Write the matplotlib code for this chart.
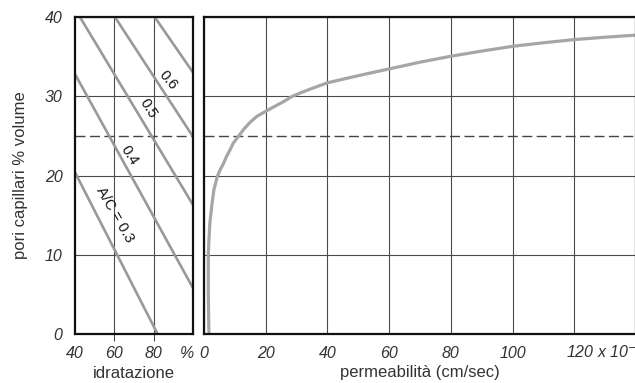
import matplotlib
matplotlib.use("Agg")
import matplotlib.pyplot as plt
import matplotlib.transforms as mtrans

plt.rcParams['font.family'] = ['Liberation Sans', 'DejaVu Sans']

# ---- data: left panel (idratazione vs pori capillari) ----
ac_labels = ["A/C = 0.3", "0.4", "0.5", "0.6", None]
line_x = [[40, 82.0], [40, 100], [42.5, 100], [60.3, 100], [80.5, 100]]
line_y = [[20.4, 0.0], [32.8, 5.8], [40, 16.3], [40, 24.9], [40, 33.0]]
label_pos = [(60.3, 15.0), (67.8, 22.6), (77.0, 28.5), (87.1, 32.0)]
label_rot = [-60, -57, -58, -50]

left_xticks = [40, 60, 80, 97]
left_xticklabels = ["40", "60", "80", "%"]
yticks = [0, 10, 20, 30, 40]
yticklabels = ["0", "10", "20", "30", "40"]

# ---- data: right panel (permeabilita vs pori capillari) ----
perm_x = [1.6, 1.4, 1.4, 1.6, 1.9, 2.5, 3.2, 4.3, 5.2, 6.3, 7.3, 8.4, 9.5, 11.1,
          12.8, 14.9, 17.1, 20.0, 22.8, 25.7, 28.4, 31.1, 34.4, 40.0, 50.0, 60.0,
          70.0, 80.0, 90.0, 100.0, 110.0, 120.0, 130.0, 139.5]
perm_y = [0.0, 5.0, 10.0, 11.9, 14.0, 16.1, 18.2, 19.85, 20.7, 21.5, 22.4, 23.2, 24.1, 24.9,
          25.8, 26.7, 27.45, 28.1, 28.7, 29.3, 29.95, 30.4, 30.9, 31.7, 32.6, 33.45,
          34.3, 35.05, 35.7, 36.3, 36.75, 37.15, 37.45, 37.7]
right_xticks = [0, 20, 40, 60, 80, 100, 120]
right_xticklabels = ["0", "20", "40", "60", "80", "100", "120 x 10$^{-12}$"]
threshold = 25

fig = plt.figure(figsize=(6.35, 3.83), dpi=100)
W, H = 635, 383
axL = fig.add_axes([75 / W, (H - 334) / H, 118 / W, 317 / H])
axR = fig.add_axes([204 / W, (H - 334) / H, 432 / W, 317 / H])

grid_c = "#4a4a4a"
tick_c = "#333333"
fs_tick = 11.5
fs_lab = 12
base_off = 17.0  # points below axis to baseline of tick labels

for ax in (axL, axR):
    ax.set_ylim(0, 40)
    ax.set_yticks(yticks)
    ax.grid(True, color=grid_c, lw=0.8)
    ax.set_axisbelow(True)
    for s in ax.spines.values():
        s.set_linewidth(1.6)
        s.set_color("#111111")
    ax.axhline(threshold, color="#444444", lw=1.0, dashes=(7.2, 3.2))


def xtick_text(ax, xv, lab, ha='center', dx=0):
    tr = mtrans.blended_transform_factory(ax.transData, ax.transAxes)
    ax.annotate(lab, xy=(xv, 0), xycoords=tr, xytext=(dx, -base_off),
                textcoords='offset points', ha=ha, va='baseline',
                fontsize=fs_tick, fontstyle='italic', color=tick_c,
                annotation_clip=False)


# Left panel
axL.set_xlim(40, 100)
axL.set_xticks([60, 80])
axL.tick_params(axis='x', length=5, width=0.8, color=grid_c, labelbottom=False)
axL.tick_params(axis='y', length=0, labelsize=fs_tick, labelcolor=tick_c, pad=9)
axL.set_yticklabels(yticklabels, fontstyle='italic')
for xv, lab in zip(left_xticks, left_xticklabels):
    xtick_text(axL, xv, lab)
for xs, ys in zip(line_x, line_y):
    axL.plot(xs, ys, color="#999999", lw=1.9, solid_capstyle='butt')
for lab, (px, py), rot in zip(ac_labels, label_pos, label_rot):
    axL.text(px, py, lab, rotation=rot, ha='center', va='center', fontsize=10.5,
             color="#111111", rotation_mode='anchor')
axL.set_ylabel("pori capillari % volume", fontsize=fs_lab, color=tick_c, labelpad=12)

# Right panel
axR.set_xlim(0, 140)
axR.set_xticks(right_xticks)
axR.tick_params(axis='x', length=0, labelbottom=False)
axR.tick_params(axis='y', length=0, labelleft=False)
for xv, lab in zip(right_xticks, right_xticklabels):
    if xv == right_xticks[-1]:
        xtick_text(axR, xv, lab, ha='left', dx=-6)
    else:
        xtick_text(axR, xv, lab)
axR.plot(perm_x, perm_y, color="#a6a6a6", lw=2.3)

# axis titles below
fig.text(134 / W, 1 - 373 / H, "idratazione", ha='center', va='center',
         fontsize=fs_lab, color=tick_c)
fig.text(420 / W, 1 - 373 / H, "permeabilità (cm/sec)", ha='center', va='center',
         fontsize=fs_lab, color=tick_c)

fig.savefig("out.png", dpi=100)
